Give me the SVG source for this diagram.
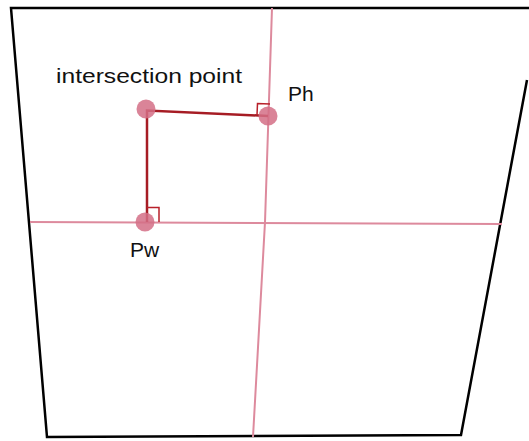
<svg xmlns="http://www.w3.org/2000/svg" width="529" height="441" viewBox="0 0 529 441">
<style>
.frame{fill:none;stroke:#000;stroke-width:2.5;stroke-linejoin:miter}
.guide{fill:none;stroke:#dd8a9d;stroke-width:2}
.link{fill:none;stroke:#a61c24;stroke-width:2.5}
.mark{fill:none;stroke:#b8202a;stroke-width:1.5}
.pt{fill:#d46e86;opacity:0.85}
.lbl{font-family:"Liberation Sans",Arial,sans-serif;fill:#111}
</style>
<rect width="529" height="441" fill="#fff"/>
<g id="frame">
<path class="frame" d="M540 8 L11 8 L47 437 L461 435 L527 80"/>
</g>
<g id="connectors">
<path class="guide" d="M272 8 L265 222 L253 437"/>
<path class="guide" d="M30 222 L502 224"/>
<path class="link" d="M268 116 L147 110.5 L147 222"/>
<path class="mark" d="M257 115 L257.5 103.5 L270 104"/>
<path class="mark" d="M147 207.5 L159 207.5 L159 222"/>
</g>
<g id="intersection">
<circle class="pt" cx="146" cy="109" r="9.5"/>
<text class="lbl" x="56" y="83" font-size="20" textLength="186" lengthAdjust="spacingAndGlyphs">intersection point</text>
</g>
<g id="ph">
<circle class="pt" cx="268" cy="116" r="9.5"/>
<text class="lbl" x="288" y="101" font-size="21">Ph</text>
</g>
<g id="pw">
<circle class="pt" cx="145" cy="222" r="9.5"/>
<text class="lbl" x="130" y="257" font-size="21">Pw</text>
</g>
</svg>
